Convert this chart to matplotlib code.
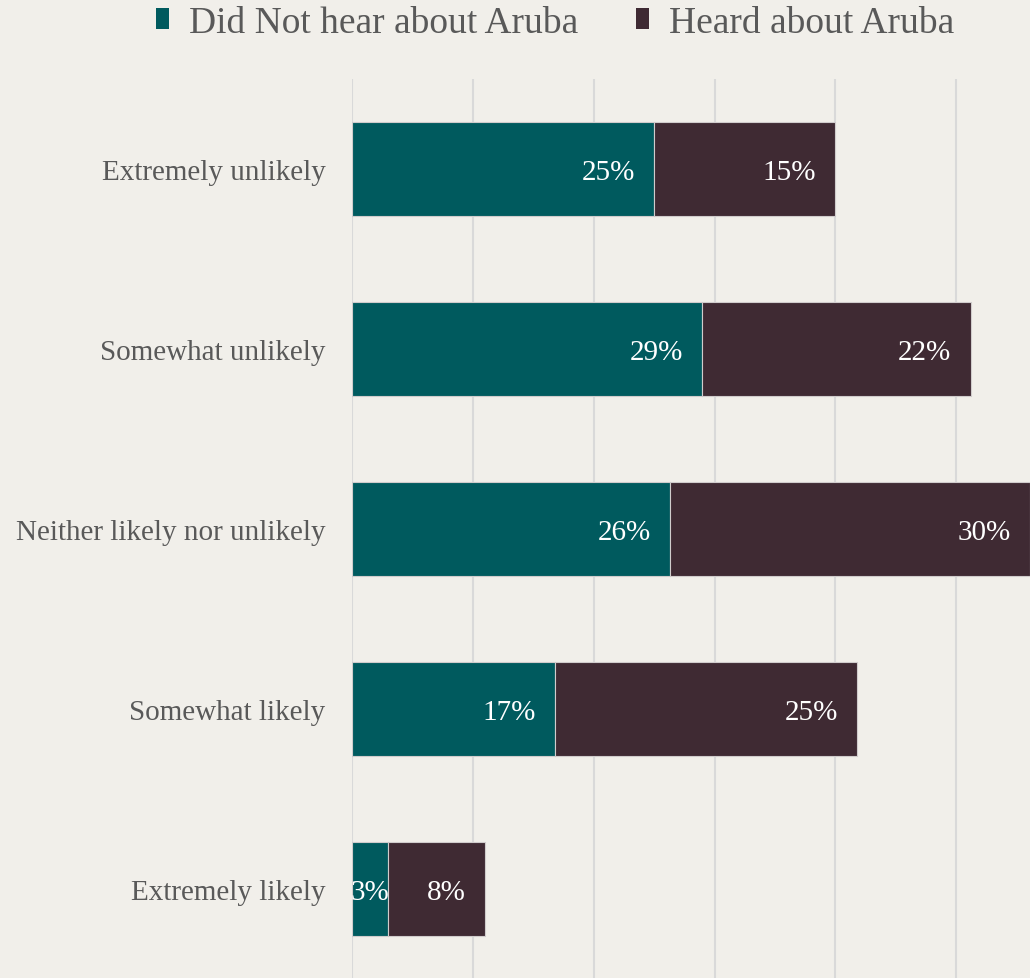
"""Stacked horizontal bars: likelihood by awareness of Aruba."""
import matplotlib
matplotlib.use("Agg")
import matplotlib.pyplot as plt
from matplotlib.patches import Patch

categories = ["Extremely unlikely", "Somewhat unlikely", "Neither likely nor unlikely",
              "Somewhat likely", "Extremely likely"]
did_not_hear = [25.0, 29.0, 26.3, 16.8, 3.0]
heard = [15.0, 22.2, 29.8, 25.0, 8.0]
series_names = ["Did Not hear about Aruba", "Heard about Aruba"]

TEAL = "#005A5E"
PLUM = "#3F2A33"
BG = "#F1EFEA"
GREY_TXT = "#595959"

plt.rcParams["font.family"] = ["Liberation Serif", "DejaVu Serif"]

fig = plt.figure(figsize=(10.30, 9.79), dpi=100, facecolor=BG)
ax = fig.add_axes([352 / 1030, -1 / 979, 1 - 352 / 1030, 900 / 979])
ax.set_facecolor(BG)

y = list(range(len(categories)))
h = 0.52
ax.barh(y, did_not_hear, height=h, color=TEAL, edgecolor="#D0CCCC", linewidth=0.8, zorder=3)
ax.barh(y, heard, left=did_not_hear, height=h, color=PLUM, edgecolor="#D0CCCC",
        linewidth=0.8, zorder=3)

pad = 1.6  # ~20 px in data units
for i in y:
    segs = [(0, did_not_hear[i]), (did_not_hear[i], heard[i])]
    for left, w in segs:
        txt = f"{w:.0f}%"
        if w < 4:
            # label wider than segment: centred, clipped by the axes
            ax.text(left + w / 2, i, txt, ha="center", va="center_baseline", color="white",
                    fontsize=21, zorder=4, clip_on=True)
        else:
            ax.text(left + w - pad, i, txt, ha="right", va="center_baseline", color="white",
                    fontsize=21, zorder=4, clip_on=True)

ax.set_xlim(0, 56.1)
ax.set_ylim(len(categories) - 0.5, -0.5)
ax.set_xticks(range(0, 60, 10))
ax.set_xticklabels([])
ax.tick_params(axis="x", length=0)
ax.tick_params(axis="y", length=0, pad=19, labelsize=21, labelcolor=GREY_TXT)
ax.set_yticks(y)
ax.set_yticklabels(categories)
ax.grid(axis="x", color="#D9D9D9", linewidth=1.5, zorder=0)
for s in ax.spines.values():
    s.set_visible(False)

handles = [Patch(facecolor=TEAL), Patch(facecolor=PLUM)]
fig.legend(handles, series_names, loc="center", bbox_to_anchor=(0.539, 0.976), ncol=2,
           frameon=False, fontsize=27, labelcolor=GREY_TXT, handlelength=0.35,
           handleheight=0.5, handletextpad=0.52, columnspacing=1.55)

fig.savefig("out.png", dpi=100, facecolor=BG)
